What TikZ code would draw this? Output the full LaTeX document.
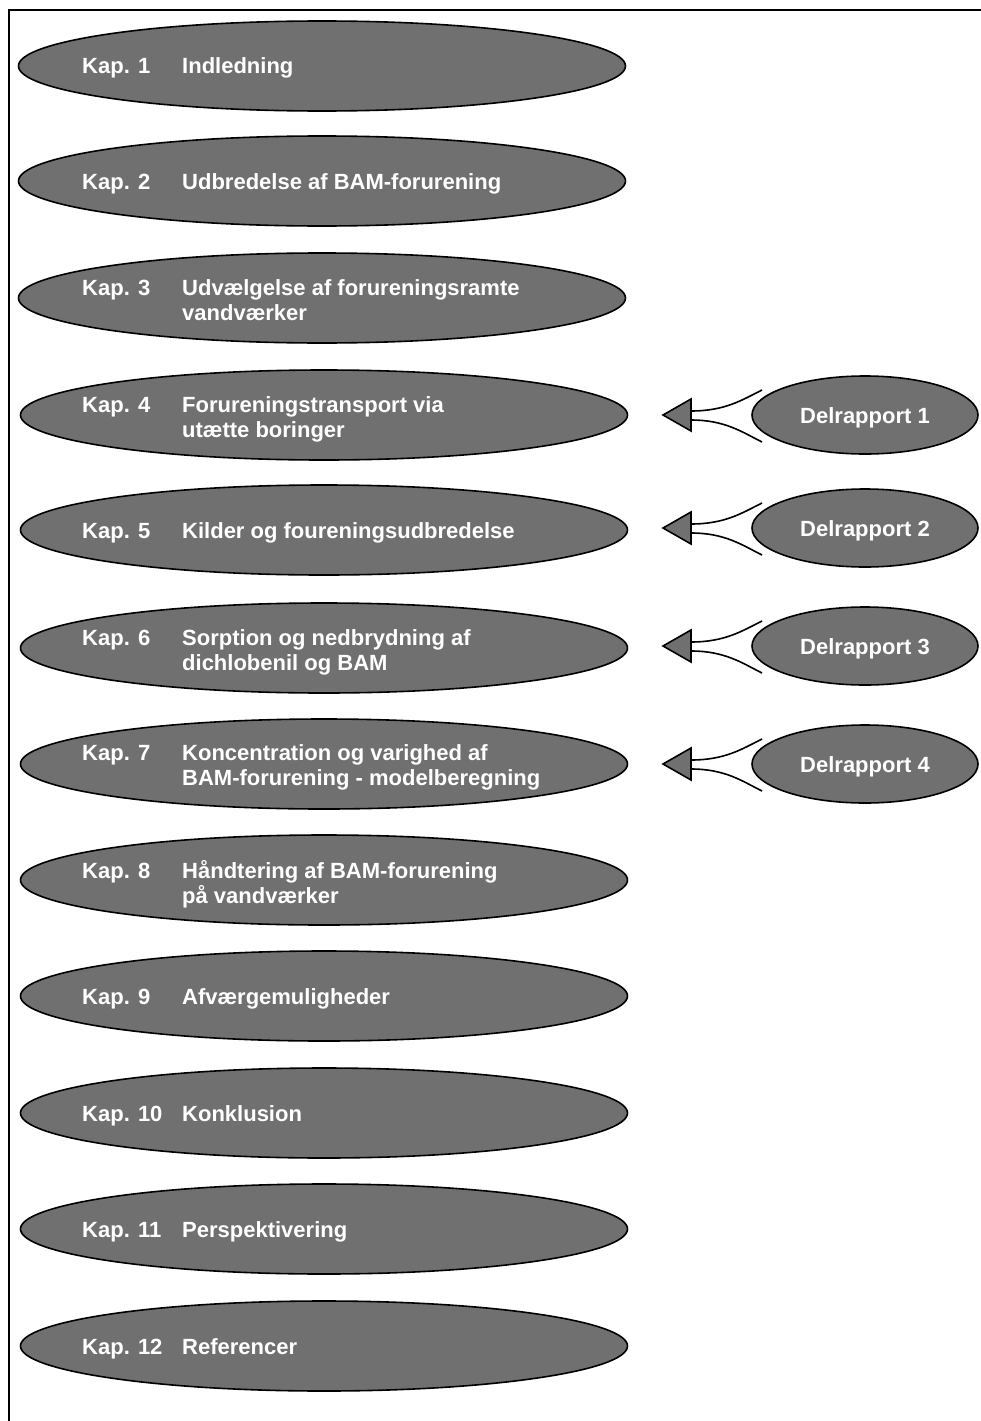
\documentclass[tikz,border=0pt]{standalone}
\usepackage{fontspec}
\setmainfont{Liberation Sans}
\usetikzlibrary{shapes.geometric}
\definecolor{kapgray}{RGB}{112,112,112}
\tikzset{kap/.style={draw,ellipse,fill=kapgray,line width=1.6pt,inner sep=0pt,
    minimum width=607pt,minimum height=90pt},
  del/.style={draw,ellipse,fill=kapgray,line width=1.6pt,inner sep=0pt,
    minimum width=226pt,minimum height=78pt},
  txt/.style={anchor=base west,text=white,font=\fontsize{22}{25.5}\selectfont\bfseries,
    inner sep=0pt,align=left},
  pil/.style={line width=1.6pt}}
\begin{document}
\begin{tikzpicture}[x=1pt,y=-1pt]
\useasboundingbox (0,0) rectangle (981,1421);
\draw[line width=1.6pt] (9,1421) -- (9,10) -- (981,10);

% kapitler (to-linjers tekst: base = sidste linje)
\node[kap] (k1) at (322,66) {};
\node[txt] (k1a) at (82,74) {Kap. 1};
\node[txt] (k1b) at (182,74) {Indledning};

\node[kap] (k2) at (322,181) {};
\node[txt] (k2a) at (82,189) {Kap. 2};
\node[txt] (k2b) at (182,189) {Udbredelse af BAM-forurening};

\node[kap] (k3) at (322,298) {};
\node[txt] (k3a) at (82,295) {Kap. 3};
\node[txt] (k3b) at (182,320.5) {Udvælgelse af forureningsramte\\vandværker};

\node[kap] (k4) at (324,415) {};
\node[txt] (k4a) at (82,412) {Kap. 4};
\node[txt] (k4b) at (182,437.5) {Forureningstransport via\\utætte boringer};

\node[kap] (k5) at (324,530) {};
\node[txt] (k5a) at (82,538) {Kap. 5};
\node[txt] (k5b) at (182,538) {Kilder og foureningsudbredelse};

\node[kap] (k6) at (324,648) {};
\node[txt] (k6a) at (82,645) {Kap. 6};
\node[txt] (k6b) at (182,670.5) {Sorption og nedbrydning af\\dichlobenil og BAM};

\node[kap] (k7) at (324,764) {};
\node[txt] (k7a) at (82,760) {Kap. 7};
\node[txt] (k7b) at (182,785.5) {Koncentration og varighed af\\BAM-forurening - modelberegning};

\node[kap] (k8) at (324,880) {};
\node[txt] (k8a) at (82,878) {Kap. 8};
\node[txt] (k8b) at (182,903.5) {Håndtering af BAM-forurening\\på vandværker};

\node[kap] (k9) at (324,996) {};
\node[txt] (k9a) at (82,1004) {Kap. 9};
\node[txt] (k9b) at (182,1004) {Afværgemuligheder};

\node[kap] (k10) at (324,1113) {};
\node[txt] (k10a) at (82,1121) {Kap. 10};
\node[txt] (k10b) at (182,1121) {Konklusion};

\node[kap] (k11) at (324,1229) {};
\node[txt] (k11a) at (82,1237) {Kap. 11};
\node[txt] (k11b) at (182,1237) {Perspektivering};

\node[kap] (k12) at (324,1346) {};
\node[txt] (k12a) at (82,1354) {Kap. 12};
\node[txt] (k12b) at (182,1354) {Referencer};

% delrapporter
\node[del] (d1) at (865,415) {};
\node[txt] (d1t) at (800,423) {Delrapport 1};
\node[del] (d2) at (865,528) {};
\node[txt] (d2t) at (800,536) {Delrapport 2};
\node[del] (d3) at (865,646) {};
\node[txt] (d3t) at (800,654) {Delrapport 3};
\node[del] (d4) at (865,764) {};
\node[txt] (d4t) at (800,772) {Delrapport 4};

% pile
\coordinate (t1) at (663,415);
\coordinate (u1) at (762,390); \coordinate (l1) at (762,442);
\draw[pil,fill=kapgray] (t1) -- (691,399) -- (691,431) -- cycle;
\draw[pil] (691,411) .. controls (725,411) and (742,400) .. (u1);
\draw[pil] (691,420) .. controls (725,420) and (742,432) .. (l1);

\coordinate (t2) at (663,528);
\coordinate (u2) at (762,503); \coordinate (l2) at (762,555);
\draw[pil,fill=kapgray] (t2) -- (691,512) -- (691,544) -- cycle;
\draw[pil] (691,524) .. controls (725,524) and (742,513) .. (u2);
\draw[pil] (691,533) .. controls (725,533) and (742,545) .. (l2);

\coordinate (t3) at (663,646);
\coordinate (u3) at (762,621); \coordinate (l3) at (762,673);
\draw[pil,fill=kapgray] (t3) -- (691,630) -- (691,662) -- cycle;
\draw[pil] (691,642) .. controls (725,642) and (742,631) .. (u3);
\draw[pil] (691,651) .. controls (725,651) and (742,663) .. (l3);

\coordinate (t4) at (663,764);
\coordinate (u4) at (762,739); \coordinate (l4) at (762,791);
\draw[pil,fill=kapgray] (t4) -- (691,748) -- (691,780) -- cycle;
\draw[pil] (691,760) .. controls (725,760) and (742,749) .. (u4);
\draw[pil] (691,769) .. controls (725,769) and (742,781) .. (l4);

\end{tikzpicture}
\end{document}
